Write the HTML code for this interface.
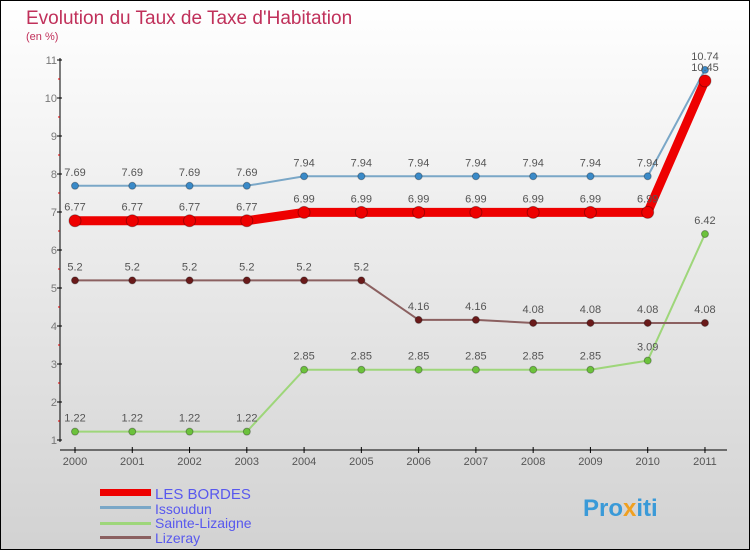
<!DOCTYPE html>
<html><head><meta charset="utf-8"><style>
body{margin:0}
#c{width:750px;height:550px;position:relative;box-sizing:border-box;border:1px solid #000;background:linear-gradient(#fff,#d2d2d2);font-family:"Liberation Sans",sans-serif;overflow:hidden}
</style></head><body>
<div id="c">
<svg id="s" width="750" height="550" style="position:absolute;left:-1px;top:-1px">
<text x="26" y="24" font-size="19" fill="#c0305a">Evolution du Taux de Taxe d'Habitation</text>
<text x="26" y="40" font-size="11" fill="#c0305a">(en %)</text>
<g id="ax"></g><g id="ser"></g>
<g>
<rect x="100" y="489" width="51" height="7" fill="#e00"/>
<text x="155" y="499" font-size="15" fill="#5858ee">LES BORDES</text>
<rect x="100" y="506" width="51" height="3" fill="#7aa7c7"/>
<text x="155" y="514" font-size="14" fill="#5858ee">Issoudun</text>
<rect x="100" y="522" width="51" height="3" fill="#9ed67a"/>
<text x="155" y="528" font-size="14" fill="#5858ee">Sainte-Lizaigne</text>
<rect x="100" y="536" width="51" height="3" fill="#8b6060"/>
<text x="155" y="543" font-size="14" fill="#5858ee">Lizeray</text>
</g>
<text x="583" y="516" font-size="24" font-weight="bold" fill="#3a9ad8">Pro<tspan fill="#f0a020">x</tspan>iti</text>
</svg></div>
<script>
const years=[2000,2001,2002,2003,2004,2005,2006,2007,2008,2009,2010,2011];
const lesBordes=[6.77,6.77,6.77,6.77,6.99,6.99,6.99,6.99,6.99,6.99,6.99,10.45];
const issoudun=[7.69,7.69,7.69,7.69,7.94,7.94,7.94,7.94,7.94,7.94,7.94,10.74];
const sainteLizaigne=[1.22,1.22,1.22,1.22,2.85,2.85,2.85,2.85,2.85,2.85,3.09,6.42];
const lizeray=[5.2,5.2,5.2,5.2,5.2,5.2,4.16,4.16,4.08,4.08,4.08,4.08];
const yTicks=[1,2,3,4,5,6,7,8,9,10,11];
const NS="http://www.w3.org/2000/svg";
const X=i=>75+i*57.27, Y=v=>440-(v-1)*38;
function mk(t,a,p){const e=document.createElementNS(NS,t);for(const k in a)e.setAttribute(k,a[k]);p.appendChild(e);return e;}
const ax=document.getElementById('ax');
let l=mk('line',{x1:60,y1:58,x2:60,y2:442,stroke:'#000'},ax);


l=mk('line',{x1:60,y1:450,x2:727,y2:450,stroke:'#000'},ax);


yTicks.forEach(v=>{
 mk('line',{x1:57,x2:62,y1:Y(v),y2:Y(v),stroke:'#000'},ax);
 if(v<11)mk('line',{x1:58,x2:60,y1:Y(v+0.5),y2:Y(v+0.5),stroke:'#d00'},ax);
 const t=mk('text',{x:57,y:Y(v)+4,'font-size':11,fill:'#777','text-anchor':'end'},ax);t.textContent=v;
 
 
});
years.forEach((y,i)=>{
 mk('line',{x1:X(i),x2:X(i),y1:447,y2:453,stroke:'#000'},ax);
 const t=mk('text',{x:X(i),y:465,'font-size':11,fill:'#555','text-anchor':'middle'},ax);t.textContent=y;
 
 
});
const ser=document.getElementById('ser');
function series(d,name,col,dot,w,r){
 const g=mk('g',{},ser);
 
 
 mk('polyline',{points:d.map((v,i)=>X(i)+','+Y(v)).join(' '),fill:'none',stroke:col,'stroke-width':w},g);
 d.forEach((v,i)=>{
  const c=mk('circle',{cx:X(i),cy:Y(v),r:r,fill:dot,stroke:'rgba(0,0,0,0.3)'},g);
  
  
  const t=mk('text',{x:X(i),y:Y(v)-10,'font-size':11,fill:'#555','text-anchor':'middle'},g);t.textContent=v;
  
  
 });
}
series(sainteLizaigne,'sainte-lizaigne','#9ed67a','#6cc23c',2,3.5);
series(lizeray,'lizeray','#8b6060','#6a1a1a',2,3.5);
series(issoudun,'issoudun','#7aa7c7','#3a8ac8',2,3.5);
series(lesBordes,'les-bordes','#e00','#e00',9,6);
</script>
</body></html>
